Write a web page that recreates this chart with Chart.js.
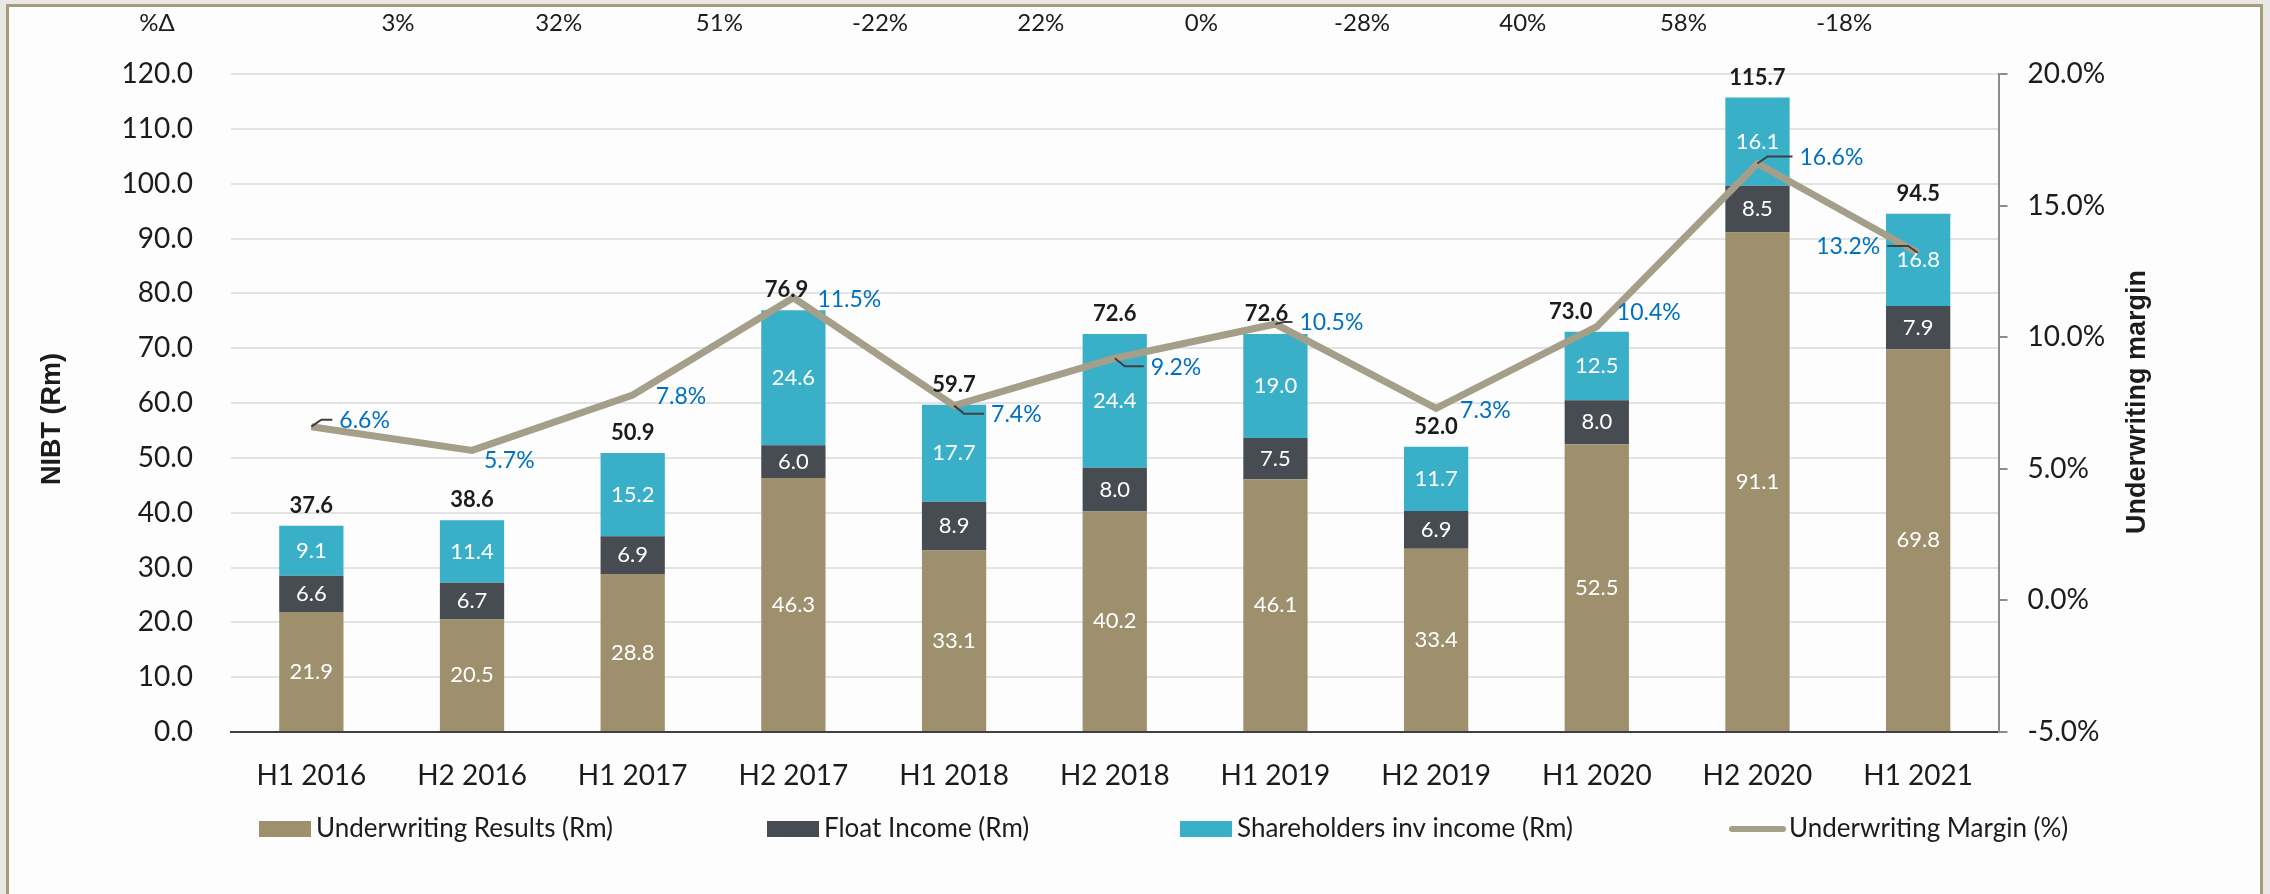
<!DOCTYPE html>
<html>
<head>
<meta charset="utf-8">
<script src="https://cdn.jsdelivr.net/npm/chart.js@4.4.0/dist/chart.umd.min.js"></script>
<style>
  html, body { margin: 0; padding: 0; background: #e9e8e4; }
  body { width: 2270px; height: 894px; position: relative; overflow: hidden; }
  .frame { position: absolute; left: 6px; top: 4px; right: 7px; bottom: -10px; border: 3px solid #a69b7b; background: #fdfdfd; }
  canvas { position: absolute; left: 0; top: 0; }
</style>
</head>
<body>
<div class="frame"></div>
<canvas id="nibtChart" width="2270" height="894"></canvas>
<script>
// Chart data (Rm, half-yearly)
const periods = ['H1 2016', 'H2 2016', 'H1 2017', 'H2 2017', 'H1 2018', 'H2 2018',
                 'H1 2019', 'H2 2019', 'H1 2020', 'H2 2020', 'H1 2021'];
const underwriting = [21.9, 20.5, 28.8, 46.3, 33.1, 40.2, 46.1, 33.4, 52.5, 91.1, 69.8];
const floatIncome  = [6.6, 6.7, 6.9, 6.0, 8.9, 8.0, 7.5, 6.9, 8.0, 8.5, 7.9];
const shareholders = [9.1, 11.4, 15.2, 24.6, 17.7, 24.4, 19.0, 11.7, 12.5, 16.1, 16.8];
const margin       = [6.6, 5.7, 7.8, 11.5, 7.4, 9.2, 10.5, 7.3, 10.4, 16.6, 13.2];
const changeLabels = ['3%', '32%', '51%', '-22%', '22%', '0%', '-28%', '40%', '58%', '-18%'];

// label placement tweaks (pixels)
const totalNudge = [0, 0, 0, -7, 0, 0, -9, 0, -26, 0, 0];
const marginNudge = [
  { dx: 28, dy: -6, leader: true },
  { dx: 12, dy: 10 },
  { dx: 23, dy: 1 },
  { dx: 24, dy: 2 },
  { dx: 37, dy: 9, leader: true },
  { dx: 36, dy: 9, leader: true },
  { dx: 24, dy: -1, leader: true },
  { dx: 24, dy: 2 },
  { dx: 20, dy: -14 },
  { dx: 42, dy: -6, leader: true },
  { dx: -38, dy: -6, leader: true }
];
const legendStarts = [259, 767, 1180, 1729];

const FONT = 'Lato, "Open Sans", sans-serif';
const TEXT = '#1c1c1c';
Chart.defaults.font.family = FONT;
Chart.defaults.color = TEXT;

const labelsPlugin = {
  id: 'nibtLabels',
  afterDatasetsDraw(chart) {
    const { ctx, scales: { x, y } } = chart;
    ctx.save();
    ctx.textAlign = 'center';
    ctx.textBaseline = 'middle';

    // values inside the stacked segments
    ctx.font = `22px ${FONT}`;
    ctx.fillStyle = '#ffffff';
    [0, 1, 2].forEach(di => {
      chart.getDatasetMeta(di).data.forEach((bar, i) => {
        const c = bar.getCenterPoint();
        ctx.fillText(chart.data.datasets[di].data[i].toFixed(1), c.x, c.y);
      });
    });

    // totals above each stack
    ctx.font = `bold 22px ${FONT}`;
    ctx.fillStyle = TEXT;
    periods.forEach((p, i) => {
      const total = underwriting[i] + floatIncome[i] + shareholders[i];
      ctx.fillText(total.toFixed(1), x.getPixelForValue(i) + totalNudge[i], y.getPixelForValue(total) - 20);
    });

    // margin labels with leader lines
    ctx.font = `23px ${FONT}`;
    chart.getDatasetMeta(3).data.forEach((pt, i) => {
      const n = marginNudge[i];
      const lx = pt.x + n.dx;
      const ly = pt.y + n.dy;
      if (n.leader) {
        const s = n.dx > 0 ? 1 : -1;
        const ex = lx - s * 7;
        const kx = pt.x + s * Math.min(10, Math.abs(ex - pt.x) / 2);
        ctx.strokeStyle = '#404040';
        ctx.lineWidth = 2;
        ctx.beginPath();
        ctx.moveTo(pt.x, pt.y);
        ctx.lineTo(kx, ly - 1);
        ctx.lineTo(ex, ly - 1);
        ctx.stroke();
      }
      ctx.fillStyle = '#0070c0';
      ctx.textAlign = n.dx > 0 ? 'left' : 'right';
      ctx.fillText(margin[i].toFixed(1) + '%', lx, ly);
    });
    ctx.restore();
  },
  afterDraw(chart) {
    const { ctx, chartArea, scales: { x } } = chart;
    ctx.save();
    ctx.fillStyle = TEXT;
    ctx.textBaseline = 'middle';
    ctx.textAlign = 'center';

    // %change row along the top
    ctx.font = `24px ${FONT}`;
    ctx.fillText('%\u0394', chartArea.left - 74, 23);
    changeLabels.forEach((t, i) => {
      ctx.fillText(t, x.getPixelForValue(i + 1) - 74, 23);
    });

    // axis titles (both read bottom to top)
    ctx.font = 'bold 27px "Liberation Sans", Arial, sans-serif';
    ctx.save();
    ctx.translate(53, 419);
    ctx.rotate(-Math.PI / 2);
    ctx.fillText('NIBT (Rm)', 0, 0);
    ctx.restore();
    ctx.save();
    ctx.translate(2138, 402);
    ctx.rotate(-Math.PI / 2);
    ctx.fillText('Underwriting margin', 0, 0);
    ctx.restore();

    // legend
    ctx.font = `26px ${FONT}`;
    ctx.textAlign = 'left';
    const ly = 829;
    chart.data.datasets.forEach((ds, k) => {
      const lx = legendStarts[k];
      if (ds.type === 'line') {
        ctx.strokeStyle = ds.borderColor;
        ctx.lineWidth = 6;
        ctx.lineCap = 'round';
        ctx.beginPath();
        ctx.moveTo(lx + 3, ly);
        ctx.lineTo(lx + 54, ly);
        ctx.stroke();
        ctx.fillStyle = TEXT;
        ctx.fillText(ds.label, lx + 60, ly);
      } else {
        ctx.fillStyle = ds.backgroundColor;
        ctx.fillRect(lx, ly - 8, 52, 16);
        ctx.fillStyle = TEXT;
        ctx.fillText(ds.label, lx + 57, ly);
      }
    });
    ctx.restore();
  }
};

const ctx = document.getElementById('nibtChart').getContext('2d');
const chart = new Chart(ctx, {
  type: 'bar',
  data: {
    labels: periods,
    datasets: [{
      label: 'Underwriting Results (Rm)',
      data: underwriting,
      backgroundColor: '#9e8f6d',
      stack: 'nibt',
      yAxisID: 'y',
      order: 1,
      barPercentage: 0.4,
      categoryPercentage: 1
    }, {
      label: 'Float Income (Rm)',
      data: floatIncome,
      backgroundColor: '#474b52',
      stack: 'nibt',
      yAxisID: 'y',
      order: 1,
      barPercentage: 0.4,
      categoryPercentage: 1
    }, {
      label: 'Shareholders inv income (Rm)',
      data: shareholders,
      backgroundColor: '#3ab0c8',
      stack: 'nibt',
      yAxisID: 'y',
      order: 1,
      barPercentage: 0.4,
      categoryPercentage: 1
    }, {
      type: 'line',
      label: 'Underwriting Margin (%)',
      data: margin,
      yAxisID: 'y1',
      borderColor: '#a59e88',
      backgroundColor: '#a59e88',
      borderWidth: 7,
      pointRadius: 0,
      tension: 0,
      fill: false,
      order: 0
    }]
  },
  options: {
    responsive: false,
    devicePixelRatio: 1,
    animation: false,
    layout: { padding: { left: 0, right: 0, top: 74, bottom: 82 } },
    plugins: {
      legend: { display: false },
      tooltip: { enabled: false }
    },
    scales: {
      x: {
        stacked: true,
        grid: { display: false },
        border: { display: true, color: '#404040', width: 2 },
        ticks: { font: { size: 28 }, color: TEXT, padding: 19, maxRotation: 0 },
        afterFit: s => { s.height = 80; }
      },
      y: {
        stacked: true,
        position: 'left',
        min: 0,
        max: 120,
        ticks: { stepSize: 10, callback: v => v.toFixed(1), font: { size: 28 }, color: TEXT, padding: 38 },
        grid: { color: '#e3e3e3', lineWidth: 2, drawTicks: false },
        border: { display: false },
        afterFit: s => { s.width = 231; }
      },
      y1: {
        position: 'right',
        min: -5,
        max: 20,
        ticks: { stepSize: 5, callback: v => v.toFixed(1) + '%', font: { size: 28 }, color: TEXT, padding: 20 },
        grid: { drawOnChartArea: false, drawTicks: true, tickLength: 9, color: '#8c8c8c', lineWidth: 2 },
        border: { display: true, color: '#8c8c8c', width: 2 },
        afterFit: s => { s.width = 271.5; }
      }
    }
  },
  plugins: [labelsPlugin]
});
</script>
</body>
</html>
